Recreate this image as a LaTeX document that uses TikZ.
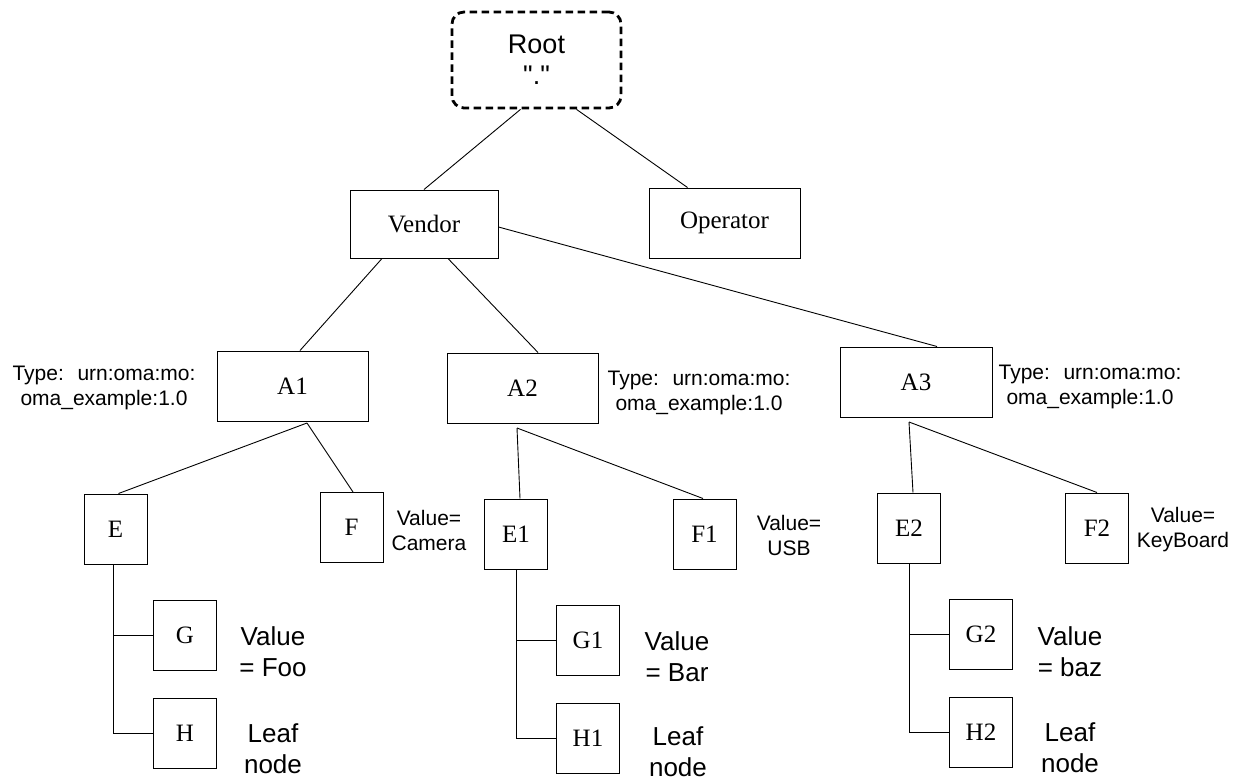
\documentclass[tikz,border=0pt]{standalone}
\usepackage{fontspec}
\setmainfont{Liberation Serif}
\newfontfamily\arialf{Liberation Sans}
\begin{document}
\begin{tikzpicture}[x=1pt,y=-1pt,
  nbox/.style={draw, line width=1pt, inner sep=0pt, font=\fontsize{25}{28}\selectfont},
  wbox/.style={nbox, minimum width=151pt, minimum height=70pt},
  sbox/.style={nbox, minimum width=63pt, minimum height=70pt},
  rootbox/.style={draw, line width=2.8pt, dash pattern=on 7.5pt off 4.5pt, rounded corners=12pt,
     minimum width=169pt, minimum height=96pt, inner sep=0pt, align=center,
     font=\arialf\fontsize{27}{31}\selectfont},
  conn/.style={line width=0.9pt},
  typetxt/.style={inner sep=0pt, align=center, font=\arialf\fontsize{21}{25.5}\selectfont},
  valtxt/.style={inner sep=0pt, align=center, font=\arialf\fontsize{21}{25}\selectfont},
  bigtxt/.style={inner sep=0pt, align=center, font=\arialf\fontsize{26}{31}\selectfont}
]
\useasboundingbox (0,0) rectangle (1240,780);

% nodes
\node[rootbox] (Root) at (536.5,60) {Root\\"."};
\node[nbox, minimum width=148pt, minimum height=68pt] (Vendor) at (424,224) {Vendor};
\node[wbox] (Operator) at (724.5,223) {Operator};
\node[wbox] (A1) at (292.5,386) {A1};
\node[wbox] (A2) at (522.5,388) {A2};
\node[wbox, minimum width=152pt] (A3) at (916,382) {A3};
\node[sbox] (E) at (115.5,529) {E};
\node[sbox] (F) at (351.5,527.5) {F};
\node[sbox] (E1) at (516,534) {E1};
\node[sbox] (F1) at (704.5,534) {F1};
\node[sbox] (E2) at (909,528) {E2};
\node[sbox] (F2) at (1097,528) {F2};
\node[sbox] (G) at (185,635.5) {G};
\node[sbox] (H) at (185,733) {H};
\node[sbox] (G1) at (588,640.5) {G1};
\node[sbox] (H1) at (588,738) {H1};
\node[sbox] (G2) at (981,634.5) {G2};
\node[sbox] (H2) at (981,732) {H2};

% annotations
\node[typetxt] (T1) at (104,388) {Type:~ urn:oma:mo:\\oma\_example:1.0};
\node[typetxt] (T2) at (699,393) {Type:~ urn:oma:mo:\\oma\_example:1.0};
\node[typetxt] (T3) at (1090,387) {Type:~ urn:oma:mo:\\oma\_example:1.0};
\node[valtxt] (VF) at (429,530) {Value=\\Camera};
\node[valtxt] (VF1) at (789,535) {Value=\\USB};
\node[valtxt] (VF2) at (1183,530) {Value=\\KeyBoard};
\node[bigtxt] (VG) at (273,652) {Value\\= Foo};
\node[bigtxt] (LH) at (273,749) {Leaf\\node};
\node[bigtxt] (VG1) at (677,657) {Value\\= Bar};
\node[bigtxt] (LH1) at (678,752) {Leaf\\node};
\node[bigtxt] (VG2) at (1070,652) {Value\\= baz};
\node[bigtxt] (LH2) at (1070,748) {Leaf\\node};

% junction points
\coordinate (j1) at (307,423);
\coordinate (j2) at (517,428);
\coordinate (j3) at (909,422);

% connectors
\draw[conn] ([xshift=-16pt]Root.south) -- (Vendor.north);
\draw[conn] ([xshift=40pt]Root.south) -- ([xshift=-37pt]Operator.north);
\draw[conn] ([xshift=-42pt]Vendor.south) -- ([xshift=7.5pt]A1.north);
\draw[conn] ([xshift=24pt]Vendor.south) -- ([xshift=15.5pt]A2.north);
\draw[conn] ([yshift=-3pt]Vendor.east) -- ([xshift=21pt]A3.north);

\draw[conn] (j1) -- ([xshift=3pt]E.north);
\draw[conn] (j1) -- ([xshift=1.5pt]F.north);
\draw[conn] (j2) -- ([xshift=4pt]E1.north);
\draw[conn] (j2) -- ([xshift=-1.5pt]F1.north);
\draw[conn] (j3) -- ([xshift=4pt]E2.north);
\draw[conn] (j3) -- (F2.north);

\draw[conn] ([xshift=-2.5pt]E.south) |- (H.west);
\draw[conn] ([xshift=-2.5pt]E.south |- G.west) -- (G.west);
\draw[conn] (E1.south) |- (H1.west);
\draw[conn] (E1.south |- G1.west) -- (G1.west);
\draw[conn] (E2.south) |- (H2.west);
\draw[conn] (E2.south |- G2.west) -- (G2.west);
\end{tikzpicture}
\end{document}
